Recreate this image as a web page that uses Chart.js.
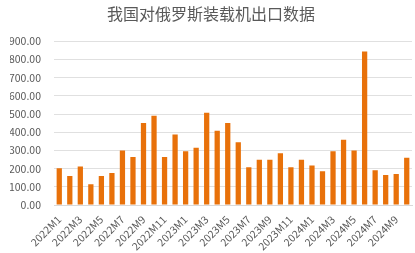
<!DOCTYPE html>
<html><head><meta charset="utf-8">
<script src="https://cdn.jsdelivr.net/npm/chart.js@4/dist/chart.umd.min.js"></script>
<style>html,body{margin:0;padding:0;background:#fff;}canvas{display:block;}</style>
</head><body>
<canvas id="c" width="415" height="253"></canvas>
<script>
const categories = ["2022M1","2022M2","2022M3","2022M4","2022M5","2022M6","2022M7","2022M8","2022M9","2022M10","2022M11","2022M12",
"2023M1","2023M2","2023M3","2023M4","2023M5","2023M6","2023M7","2023M8","2023M9","2023M10","2023M11","2023M12",
"2024M1","2024M2","2024M3","2024M4","2024M5","2024M6","2024M7","2024M8","2024M9","2024M10"];
const values = [202,160,211,114,160,176,299,264,450,490,264,387,
296,314,507,408,450,345,208,248,248,285,208,248,
217,186,296,358,299,843,191,165,171,259];
const yTicks = [0,100,200,300,400,500,600,700,800,900];
const title = "我国对俄罗斯装载机出口数据";

const font = "'Noto Sans CJK SC','Noto Sans',sans-serif";
new Chart(document.getElementById('c'), {
  type: 'bar',
  data: { labels: categories, datasets: [{ data: values, backgroundColor: '#E8710A', barPercentage: 0.5, categoryPercentage: 1.0 }] },
  options: {
    responsive: false, animation: false,
    layout: { padding: { left: 10, right: 3, top: 2, bottom: 0 } },
    plugins: {
      legend: { display: false }, tooltip: { enabled: false },
      title: { display: true, text: title, color: '#595959', font: { family: font, size: 16, weight: 'normal' }, padding: { top: 2, bottom: 18 } }
    },
    scales: {
      x: {
        grid: { display: false },
        border: { display: true, color: '#d9d9d9' },
        afterFit: function(s) { s.height = 48; s.paddingLeft = 0; s.paddingRight = 0; },
        ticks: { autoSkip: false, maxRotation: 45, minRotation: 45, color: '#595959', font: { family: font, size: 10.5 }, padding: 0,
          callback: function(v, i) { return i % 2 === 0 ? categories[i] : ''; } }
      },
      y: {
        min: 0, max: 900,
        afterBuildTicks: function(s) { s.ticks = yTicks.map(v => ({ value: v })); },
        afterFit: function(s) { s.width = 44; s.paddingTop = 0; s.paddingBottom = 0; },
        grid: { color: '#e0e0e0', drawTicks: false },
        border: { display: false },
        ticks: { color: '#595959', font: { family: font, size: 10.5 }, padding: 13, callback: v => Number(v).toFixed(2) }
      }
    }
  }
});
</script>
</body></html>
